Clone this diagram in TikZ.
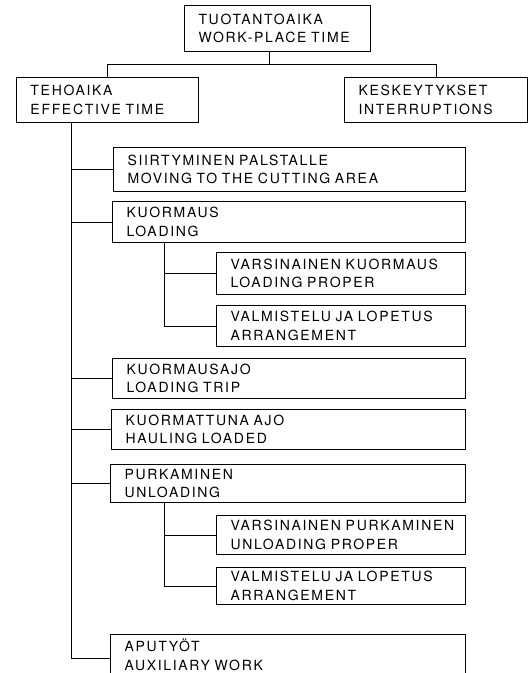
\documentclass[tikz,border=0pt]{standalone}
\usepackage{fontspec}
\setmainfont{TeX Gyre Heros}[LetterSpace=12,WordSpace=2.0]
\hyphenpenalty=10000

\begin{document}
\begin{tikzpicture}[x=1pt,y=-1pt,line width=1pt,
  box/.style={draw,anchor=north west,align=left,inner xsep=14pt,inner ysep=0pt,
    text width=#1,font=\fontsize{14}{18.5}\selectfont}]
\useasboundingbox (0,0) rectangle (532,673);
\node[box=158pt,minimum height=46pt] (tuot) at (184,5) {TUOTANTOAIKA\\WORK-PLACE TIME};
\node[box=154pt,minimum height=45pt] (teho) at (16,77) {TEHOAIKA\\EFFECTIVE TIME};
\node[box=155pt,minimum height=45pt] (kesk) at (344,77) {KESKEYTYKSET\\INTERRUPTIONS};
\node[box=324pt,minimum height=44pt] (siirto) at (113,147) {SIIRTYMINEN PALSTALLE\\MOVING TO THE CUTTING AREA};
\node[box=325pt,minimum height=41pt] (kuorm) at (112,201) {KUORMAUS\\LOADING};
\node[box=221pt,minimum height=42pt] (vkuorm) at (216,252) {VARSINAINEN~KUORMAUS\\LOADING PROPER};
\node[box=221pt,minimum height=41pt] (vlopa) at (216,305) {VALMISTELU~JA~LOPETUS\\ARRANGEMENT};
\node[box=325pt,minimum height=40pt] (kajo) at (112,358) {KUORMAUSAJO\\LOADING TRIP};
\node[box=326pt,minimum height=40pt] (kuajo) at (111,409) {KUORMATTUNA AJO\\HAULING LOADED};
\node[box=327pt,minimum height=38pt] (purk) at (110,464) {PURKAMINEN\\UNLOADING};
\node[box=221pt,minimum height=39pt] (vpurk) at (216,515) {VARSINAINEN~PURKAMINEN\\UNLOADING PROPER};
\node[box=221pt,minimum height=37pt] (vlopb) at (216,567) {VALMISTELU~JA~LOPETUS\\ARRANGEMENT};
\node[box=327pt,minimum height=41pt] (aput) at (110,634) {APUTYÖT\\AUXILIARY WORK};
% top level
\draw ([xshift=-8pt]tuot.south) -- ++(0,12) -| (teho.north);
\draw ([xshift=-8pt]tuot.south) ++(0,12) -| (kesk.north);
% effective time
\coordinate (spine) at ([xshift=55pt]teho.south west);
\foreach \c in {siirto,kuorm,kajo,kuajo,purk}
  \draw (spine) |- (\c.west);
\draw (spine) |- (aput.west |- 0,658);
% loading and unloading
\coordinate (suba) at ([xshift=52pt]kuorm.south west);
\coordinate (subb) at ([xshift=54pt]purk.south west);
\foreach \c in {vkuorm,vlopa}
  \draw (suba) |- (\c.west);
\foreach \c in {vpurk,vlopb}
  \draw (subb) |- (\c.west);
\end{tikzpicture}
\end{document}
